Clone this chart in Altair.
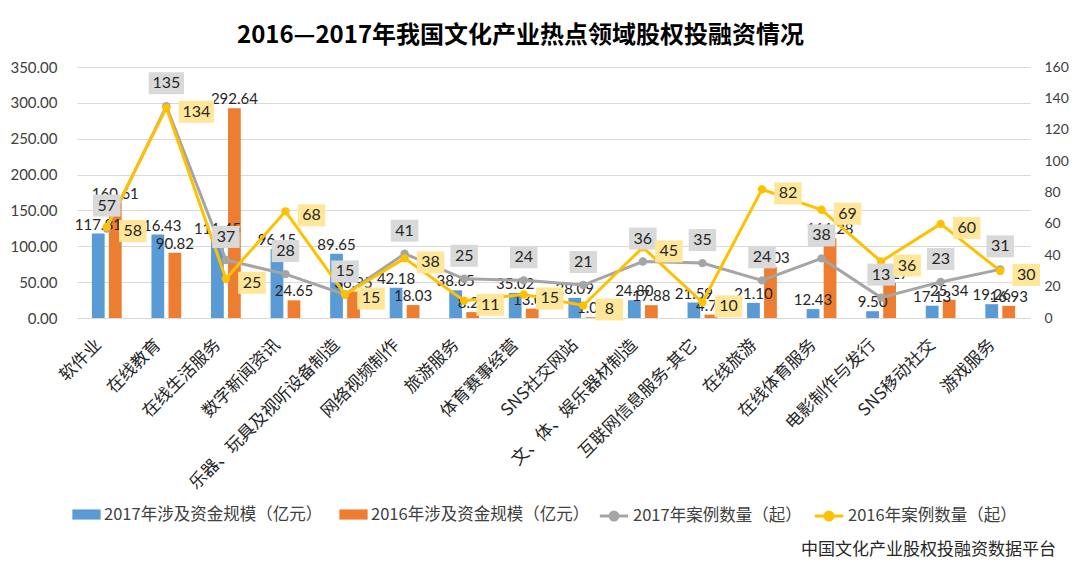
import altair as alt
import pandas as pd

categories = ["软件业", "在线教育", "在线生活服务", "数字新闻资讯", "乐器、玩具及视听设备制造",
              "网络视频制作", "旅游服务", "体育赛事经营", "SNS社交网站", "文、体、娱乐器材制造",
              "互联网信息服务-其它", "在线旅游", "在线体育服务", "电影制作与发行", "SNS移动社交", "游戏服务"]
amount_2017 = [117.81, 116.43, 111.45, 96.15, 89.65, 42.18, 38.65, 35.02, 28.09, 24.80,
               21.59, 21.10, 12.43, 9.50, 17.13, 19.26]
amount_2016 = [160.61, 90.82, 292.64, 24.65, 36.95, 18.03, 8.21, 13.01, 1.01, 17.88,
               4.73, 71.03, 111.28, 49.27, 25.34, 16.93]
cases_2017 = [57, 135, 37, 28, 15, 41, 25, 24, 21, 36, 35, 24, 38, 13, 23, 31]
cases_2016 = [58, 134, 25, 68, 15, 38, 11, 15, 8, 45, 10, 82, 69, 36, 60, 30]
left_ticks = [0, 50, 100, 150, 200, 250, 300, 350]
right_ticks = [0, 20, 40, 60, 80, 100, 120, 140, 160]
bar_series = ["2017年涉及资金规模（亿元）", "2016年涉及资金规模（亿元）"]
line_series = ["2017年案例数量（起）", "2016年案例数量（起）"]
title_text = "2016—2017年我国文化产业热点领域股权投融资情况"
source_text = ["中国文化产业股权投融资数据平台"]

FONT = "Noto Sans CJK SC"
NUMFONT = "Lato"
W, H = 953, 251

bars_df = pd.DataFrame({
    "category": categories * 2,
    "series": [bar_series[0]] * len(categories) + [bar_series[1]] * len(categories),
    "value": amount_2017 + amount_2016,
})
lines_df = pd.DataFrame({
    "category": categories * 2,
    "series": [line_series[0]] * len(categories) + [line_series[1]] * len(categories),
    "count": cases_2017 + cases_2016,
})
src_df = pd.DataFrame({"t": source_text})

x_enc = alt.X("category:N", sort=categories,
              scale=alt.Scale(paddingInner=0.5, paddingOuter=0.25),
              axis=alt.Axis(title=None, labelAngle=315, labelAlign="right", labelBaseline="middle",
                            labelFontSize=17, labelFont=FONT, labelColor="#262626", labelLimit=0,
                            labelPadding=24, labelOffset=-8, ticks=False, domain=True,
                            domainColor="#D9D9D9"))
xoff = alt.XOffset("series:N", sort=bar_series, scale=alt.Scale(paddingInner=0.25))

bar_base = alt.Chart(bars_df).encode(
    x=x_enc,
    xOffset=xoff,
    y=alt.Y("value:Q", scale=alt.Scale(domain=[0, 350]),
            axis=alt.Axis(title=None, values=left_ticks, format=".2f", grid=True, gridColor="#D9D9D9",
                          domain=False, ticks=False, labelFontSize=15, labelFont=NUMFONT,
                          labelColor="#404040", labelPadding=20)),
)
bars = bar_base.mark_bar().encode(
    color=alt.Color("series:N", sort=bar_series,
                    scale=alt.Scale(domain=bar_series, range=["#5B9BD5", "#ED7D31"]),
                    legend=alt.Legend(title=None, orient="none", direction="horizontal",
                                      legendX=-5, legendY=433, symbolType="M-1,-0.36H1V0.36H-1Z",
                                      symbolSize=800, labelFont=FONT, labelFontSize=16.5,
                                      labelColor="#404040", columnPadding=16, labelOffset=3,
                                      labelLimit=0, symbolStrokeWidth=0))
)
bar_text = bar_base.mark_text(dy=-9, fontSize=15, font=NUMFONT, color="#262626").encode(
    text=alt.Text("value:Q", format=".2f")
)
left = alt.layer(bars, bar_text)

line_base = alt.Chart(lines_df).encode(
    x=alt.X("category:N", sort=categories),
    y=alt.Y("count:Q", scale=alt.Scale(domain=[0, 160]),
            axis=alt.Axis(title=None, orient="right", values=right_ticks, grid=False, domain=False,
                          ticks=False, labelFontSize=14, labelFont=NUMFONT, labelColor="#404040",
                          labelPadding=14, labelAlign="left")),
)
line_color = alt.Scale(domain=line_series, range=["#A5A5A5", "#FFC000"])
lines = line_base.mark_line(strokeWidth=3).encode(
    stroke=alt.Stroke("series:N", sort=line_series, scale=line_color,
                      legend=alt.Legend(title=None, orient="none", direction="horizontal",
                                        legendX=521, legendY=433,
                                        symbolType="M-1,0H1M-0.28,0A0.28,0.28 0 1,1 0.28,0A0.28,0.28 0 1,1 -0.28,0",
                                        symbolSize=800, symbolStrokeWidth=3, labelFont=FONT,
                                        labelFontSize=16.5, labelColor="#404040", columnPadding=6,
                                        labelOffset=3, labelLimit=0))
)
points = line_base.mark_point(filled=True, size=70, opacity=1).encode(
    fill=alt.Fill("series:N", sort=line_series, scale=line_color, legend=None)
)

g_filter = alt.datum.series == line_series[0]
y_filter = alt.datum.series == line_series[1]
small = alt.datum["count"] < 100
big = alt.datum["count"] >= 100
box_small = "M-1.25,-1H1.25V1H-1.25Z"
box_big = "M-1.6,-1H1.6V1H-1.6Z"

gray_box_s = line_base.transform_filter(g_filter).transform_filter(small).mark_point(
    shape=box_small, size=484, filled=True, color="#D9D9D9", opacity=1, yOffset=-23)
gray_box_b = line_base.transform_filter(g_filter).transform_filter(big).mark_point(
    shape=box_big, size=484, filled=True, color="#D9D9D9", opacity=1, yOffset=-23)
gray_text = line_base.transform_filter(g_filter).mark_text(
    dy=-23, fontSize=16, font=NUMFONT, color="#262626").encode(text="count:Q")

yel_box_s = line_base.transform_filter(y_filter).transform_filter(small).mark_point(
    shape=box_small, size=484, filled=True, color="#FFE699", opacity=1, xOffset=26, yOffset=4)
yel_box_b = line_base.transform_filter(y_filter).transform_filter(big).mark_point(
    shape=box_big, size=484, filled=True, color="#FFE699", opacity=1, xOffset=30, yOffset=4)
yel_text_s = line_base.transform_filter(y_filter).transform_filter(small).mark_text(
    dx=26, dy=4, fontSize=16, font=NUMFONT, color="#262626").encode(text="count:Q")
yel_text_b = line_base.transform_filter(y_filter).transform_filter(big).mark_text(
    dx=30, dy=4, fontSize=16, font=NUMFONT, color="#262626").encode(text="count:Q")

right = alt.layer(lines, points, gray_box_s, gray_box_b, gray_text,
                  yel_box_s, yel_box_b, yel_text_s, yel_text_b)

source = alt.Chart(src_df).mark_text(align="right", baseline="middle", fontSize=17, font=FONT,
                                     color="#262626").encode(
    text="t:N", x=alt.value(979), y=alt.value(483))

chart = alt.layer(left, right, source).resolve_scale(y="independent").properties(
    width=W, height=H,
    title=alt.TitleParams(title_text, anchor="middle", frame="group", fontSize=24, fontWeight="bold",
                          font=FONT, color="#000000", offset=12, dx=-33),
    autosize=alt.AutoSizeParams(type="none"),
    padding={"left": 69, "top": 59, "right": 42, "bottom": 257},
).configure_view(stroke=None).configure_legend(padding=0)

chart.save("out.html", embed_options={"renderer": "svg", "actions": False})
